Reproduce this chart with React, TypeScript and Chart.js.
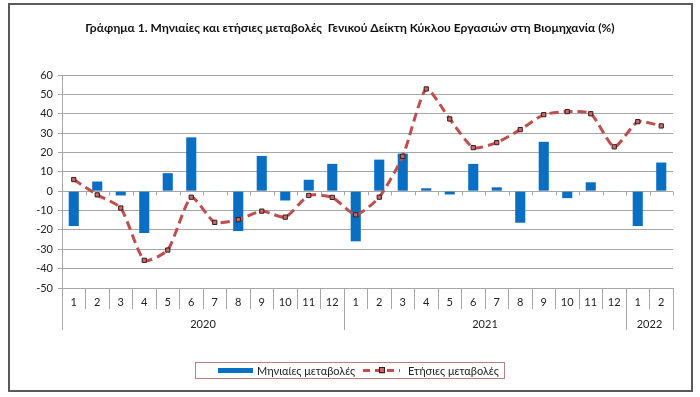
import React, { useEffect, useRef } from "react";
import { Chart, registerables } from "chart.js";

Chart.register(...registerables);

const monthLabels = ["1","2","3","4","5","6","7","8","9","10","11","12","1","2","3","4","5","6","7","8","9","10","11","12","1","2"];
const years = ["2020", "2021", "2022"];
const yearSpans = [12, 12, 2];
const monthly = [-18.0, 5.0, -2.2, -21.6, 9.3, 27.8, -0.3, -20.6, 18.2, -4.8, 5.9, 14.1, -25.9, 16.3, 19.4, 1.5, -1.7, 14.1, 2.0, -16.3, 25.5, -3.6, 4.6, -0.2, -18.0, 14.8];
const annual = [6.0, -1.9, -8.7, -35.7, -30.4, -3.1, -16.1, -14.7, -10.3, -13.4, -2.2, -3.2, -12.2, -3.1, 18.0, 52.8, 37.3, 22.5, 25.1, 31.8, 39.5, 41.1, 40.0, 22.9, 35.9, 33.7];
const titleText = "Γράφημα 1. Μηνιαίες και ετήσιες μεταβολές  Γενικού Δείκτη Κύκλου Εργασιών στη Βιομηχανία (%)";
const seriesNames = ["Μηνιαίες μεταβολές", "Ετήσιες μεταβολές"];

const BLUE = "#0a6fc2";
const RED = "#be4f4c";
const GRID = "#a6a6a6";
const FONT = "Lato, 'Open Sans', sans-serif";

const decorPlugin = {
  id: "decor",
  beforeDraw(chart: any) {
    const ctx = chart.ctx;
    ctx.save();
    ctx.fillStyle = "#ffffff";
    ctx.fillRect(0, 0, chart.width, chart.height);
    ctx.strokeStyle = "#5a5a5a";
    ctx.lineWidth = 2;
    ctx.strokeRect(9, 4, 683, 387);
    ctx.restore();
  },
  afterDraw(chart: any) {
    const ctx = chart.ctx;
    const xs = chart.scales.x;
    const ys = chart.scales.y;
    const area = chart.chartArea;
    const n = monthLabels.length;
    const w = (area.right - area.left) / n;
    ctx.save();
    ctx.fillStyle = "#111";
    ctx.font = "bold 12px " + FONT;
    ctx.textAlign = "center";
    ctx.textBaseline = "middle";
    ctx.fillText(titleText, 350, 28);
    const y0 = Math.round(ys.getPixelForValue(0)) + 0.5;
    ctx.strokeStyle = GRID;
    ctx.lineWidth = 1;
    ctx.beginPath();
    for (let i = 0; i <= n; i++) {
      const x = Math.round(xs.getPixelForValue(0) - w / 2 + i * w) + 0.5;
      ctx.moveTo(x, y0);
      ctx.lineTo(x, y0 + 4);
    }
    ctx.stroke();
    const bottom = area.bottom;
    let idx = 0;
    ctx.font = "11px " + FONT;
    ctx.fillStyle = "#222";
    ctx.beginPath();
    const edges = [0];
    yearSpans.forEach((s) => { idx += s; edges.push(idx); });
    edges.forEach((e) => {
      const x = Math.round(xs.getPixelForValue(0) - w / 2 + e * w) + 0.5;
      ctx.moveTo(x, bottom);
      ctx.lineTo(x, bottom + 42);
    });
    ctx.stroke();
    idx = 0;
    years.forEach((yr, k) => {
      const a = xs.getPixelForValue(idx);
      const b = xs.getPixelForValue(idx + yearSpans[k] - 1);
      ctx.fillText(yr, (a + b) / 2, bottom + 36);
      idx += yearSpans[k];
    });
    ctx.strokeStyle = "#b98080";
    ctx.lineWidth = 1;
    ctx.strokeRect(195.5, 362.5, 309, 16);
    ctx.fillStyle = BLUE;
    ctx.fillRect(218, 368, 35, 5);
    ctx.fillStyle = "#222";
    ctx.textAlign = "left";
    ctx.fillText(seriesNames[0], 257, 371);
    ctx.strokeStyle = RED;
    ctx.lineWidth = 3;
    ctx.setLineDash([7, 5]);
    ctx.beginPath();
    ctx.moveTo(363, 370.5);
    ctx.lineTo(400, 370.5);
    ctx.stroke();
    ctx.setLineDash([]);
    ctx.fillStyle = "#c86a6a";
    ctx.fillRect(379, 367.5, 6, 6);
    ctx.strokeStyle = "#3a1c1c";
    ctx.lineWidth = 1;
    ctx.strokeRect(379.5, 367.5, 5, 5);
    ctx.fillStyle = "#222";
    ctx.fillText(seriesNames[1], 408, 371);
    ctx.restore();
  },
};

export default function App() {
  const ref = useRef<HTMLCanvasElement>(null);
  useEffect(() => {
    if (!ref.current) return;
    const chart = new Chart(ref.current, {
      type: "bar",
      data: {
        labels: monthLabels,
        datasets: [
          {
            type: "line",
            label: seriesNames[1],
            data: annual,
            borderColor: RED,
            borderWidth: 3,
            borderDash: [9, 5],
            tension: 0.2,
            pointStyle: "rect",
            pointRadius: 3,
            pointBackgroundColor: "#c86a6a",
            pointBorderColor: "#3a1c1c",
            pointBorderWidth: 1,
            fill: false,
            order: 0,
          },
          {
            type: "bar",
            label: seriesNames[0],
            data: monthly,
            backgroundColor: BLUE,
            borderWidth: 0,
            categoryPercentage: 1,
            barPercentage: 0.43,
            order: 1,
          },
        ],
      },
      options: {
        animation: false,
        responsive: false,
        maintainAspectRatio: false,
        devicePixelRatio: 1,
        layout: { padding: { left: 0, right: 27, top: 75, bottom: 67 } },
        plugins: { legend: { display: false }, title: { display: false }, tooltip: { enabled: false } },
        scales: {
          x: {
            offset: true,
            grid: { display: true, drawOnChartArea: false, drawTicks: true, tickLength: 21, color: GRID, offset: true },
            border: { display: true, color: GRID },
            ticks: { autoSkip: false, maxRotation: 0, padding: -13, color: "#222", font: { family: FONT, size: 11 } },
            afterFit: (s: any) => { s.height = 42; },
          },
          y: {
            min: -50,
            max: 60,
            ticks: { stepSize: 10, padding: 5, color: "#222", font: { family: FONT, size: 11 } },
            grid: { color: GRID, tickLength: 4, drawTicks: true },
            border: { display: true, color: GRID },
            afterFit: (s: any) => { s.width = 62; },
          },
        },
      },
      plugins: [decorPlugin],
    } as any);
    return () => chart.destroy();
  }, []);
  return (
    <div style={{ position: "fixed", left: 0, top: 0, width: 700, height: 397 }}>
      <canvas ref={ref} width={700} height={397} style={{ width: 700, height: 397 }} />
    </div>
  );
}
